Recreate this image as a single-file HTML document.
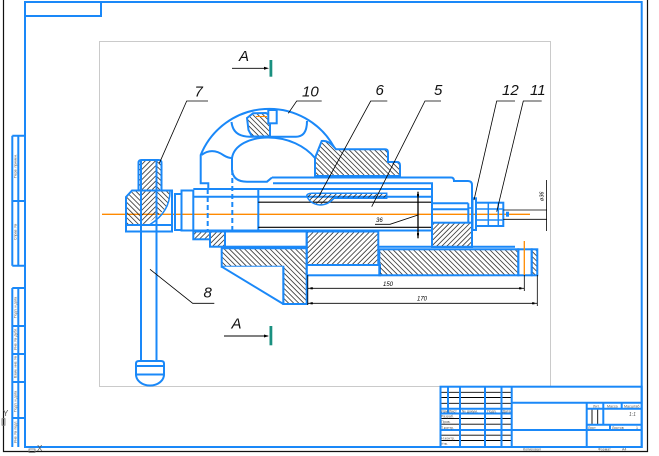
<!DOCTYPE html>
<html><head><meta charset="utf-8"><style>
html,body{margin:0;padding:0;background:#fff;}
svg{display:block;}
.b{stroke:#1a88f8;stroke-width:2;fill:none;stroke-linejoin:miter;}
.bt{stroke:#1a88f8;stroke-width:1.5;fill:none;}
.hf{fill:url(#hf);}
.hb{fill:url(#hb);}
.wf{fill:#fff;}
.k{stroke:#000;stroke-width:0.8;fill:none;}
.t{font-family:"Liberation Sans","DejaVu Sans",sans-serif;font-style:italic;}
.g{font-family:"Liberation Sans","DejaVu Sans",sans-serif;fill:#555;}
</style></head><body>
<svg width="659" height="456" viewBox="0 0 659 456" xmlns="http://www.w3.org/2000/svg">
<defs>
<pattern id="hf" width="3.6" height="3.6" patternUnits="userSpaceOnUse" patternTransform="rotate(45)"><line x1="0.5" y1="0" x2="0.5" y2="3.6" stroke="#111" stroke-width="0.7"/></pattern>
<pattern id="hb" width="3.6" height="3.6" patternUnits="userSpaceOnUse" patternTransform="rotate(-45)"><line x1="0.5" y1="0" x2="0.5" y2="3.6" stroke="#111" stroke-width="0.7"/></pattern>
</defs>
<rect width="659" height="456" fill="#fff"/>

<!-- outer black frame -->
<path d="M3.5,0 L3.5,451.5 L647.5,451.5 L647.5,0" stroke="#111" stroke-width="1.2" fill="none"/>
<!-- blue sheet frame -->
<rect x="25" y="2" width="616.7" height="445" class="b"/>
<rect x="25" y="2" width="76" height="14" class="b"/>
<!-- left strips -->
<path d="M12.3,135.7 L12.3,265.7 M18.3,135.7 L18.3,265.7 M12.3,135.7 L25,135.7 M12.3,201 L25,201 M12.3,265.7 L25,265.7" class="b"/>
<path d="M12.3,288 L12.3,447 M18.3,288 L18.3,447 M12.3,288 L25,288 M12.3,326 L25,326 M12.3,354 L25,354 M12.3,382 L25,382 M12.3,418 L25,418" class="b"/>
<g class="g" font-size="3.6">
<text transform="translate(16.6,178) rotate(-90)">Перв. примен.</text>
<text transform="translate(16.6,240) rotate(-90)">Справ. №</text>
<text transform="translate(16.6,318) rotate(-90)">Подп. и дата</text>
<text transform="translate(16.6,350) rotate(-90)">Инв. № дубл.</text>
<text transform="translate(16.6,378) rotate(-90)">Взам. инв. №</text>
<text transform="translate(16.6,412) rotate(-90)">Подп. и дата</text>
<text transform="translate(16.6,443) rotate(-90)">Инв. № подл.</text>
</g>
<!-- axis marker -->
<text x="3" y="416" class="g" font-size="8" fill="#777">Y</text>
<rect x="2" y="418.7" width="3" height="6.5" fill="none" stroke="#777" stroke-width="0.8"/>
<text x="37" y="451" class="g" font-size="8" fill="#777">X</text>
<rect x="29" y="449" width="6" height="3.5" fill="none" stroke="#777" stroke-width="0.8"/>

<!-- gray drawing area -->
<rect x="99.5" y="41.5" width="451" height="345" fill="none" stroke="#cacaca" stroke-width="1"/>

<!-- center line -->
<line x1="102" y1="214.3" x2="530" y2="214.3" stroke="#ff8a00" stroke-width="1.3"/>

<!-- ===== base ===== -->
<path d="M221.7,248.3 L306.7,248.3 L306.7,304 L283.3,304 L283.3,266.7 L221.7,266.7 Z" class="b hb"/>
<path d="M221.7,266.7 L283.3,266.7 L283.3,304 Z" class="wf"/>
<line x1="221.7" y1="266.7" x2="283.3" y2="304" class="b"/>
<line x1="283.3" y1="266.7" x2="283.3" y2="304" class="b"/>
<rect x="306.7" y="265" width="73.3" height="10.3" class="b"/>
<rect x="379.3" y="249.3" width="139" height="26" class="b hb"/>
<rect x="518.3" y="249.3" width="13.4" height="26" class="b"/>
<rect x="531.7" y="249.3" width="5.6" height="26" class="b hb"/>
<line x1="378.3" y1="246.7" x2="515" y2="246.7" class="b"/>

<!-- rails under jaw -->
<rect x="193.3" y="231.5" width="16.7" height="7.8" class="b hf"/>
<rect x="210" y="231.5" width="15" height="15.2" class="b hf"/>
<rect x="225" y="231.5" width="81.7" height="15.2" class="b"/>
<rect x="306.7" y="231.5" width="71.6" height="33.5" class="b hf"/>

<!-- ===== handle 8 ===== -->
<line x1="141" y1="160" x2="141" y2="361" class="b"/>
<line x1="156.5" y1="160" x2="156.5" y2="361" class="b"/>
<path d="M136,374.5 L136,363.5 Q136,361 139,361 L161,361 Q164,361 164,363.5 L164,374.5 Z" class="b wf"/>
<line x1="136" y1="366" x2="164" y2="366" class="b"/>
<path d="M136,374.5 A14,11 0 0 0 164,374.5" class="b"/>

<!-- ===== screw head 7 ===== -->
<path d="M127,197 L132.5,191.5 L141,191.5 L141,224.5 L127,224.5 Z" class="hb"/>
<path d="M141,161 L156.5,161 L156.5,216 Q150,223.5 141,224.5 Z" class="hf"/>
<path d="M156.5,161 L160.5,162.5 L160.5,191.5 L170,191.5 Q170,208 156.5,216 Z" class="hb"/>
<path d="M139.5,161.5 L141,161 L141,191 L139.5,191 Z" class="hb"/>
<path d="M138.5,191 L138.5,163 Q138.5,160 141.5,160 L158.5,160 Q161.5,160 161.5,163 L161.5,191" class="b"/>
<path d="M126,197 L132,190.5 L172,190.5 L172,231.5 L126,231.5 Z" class="b"/>
<line x1="126" y1="225" x2="172" y2="225" class="b"/>
<path d="M170,191 Q170,212 150,224.5" class="bt"/>
<line x1="141" y1="160" x2="141" y2="231" class="b"/>
<line x1="156.5" y1="160" x2="156.5" y2="231" class="b"/>

<!-- flange pieces -->
<rect x="175" y="194" width="6.5" height="36" class="b"/>
<rect x="181.5" y="190.5" width="11.8" height="40" class="b"/>

<!-- screw body lines -->
<path d="M193.3,189 L432,189" class="b"/>
<path d="M193.3,196.7 L432,196.7" class="b"/>
<path d="M193.3,230.5 L432,230.5" class="b"/>
<line x1="258.3" y1="189" x2="258.3" y2="230.5" class="b"/>
<line x1="258.3" y1="202.2" x2="432" y2="202.2" stroke="#000" stroke-width="1.2"/>
<line x1="258.3" y1="227.3" x2="432" y2="227.3" stroke="#000" stroke-width="1.2"/>

<!-- hidden lines -->
<line x1="207.7" y1="189" x2="207.7" y2="230" class="b" stroke-dasharray="5,3"/>
<line x1="232.3" y1="170" x2="232.3" y2="230" class="b" stroke-dasharray="5,3"/>

<!-- ===== frame 10 ===== -->
<path d="M208.3,189 L208.3,183.3 L200.7,183.3 L200.7,155 A74,74 0 0 1 334,147" class="b"/>
<path d="M201.5,155 Q212,147 224,155.5 Q228,158 232,158" class="b"/>
<path d="M232,170 L232,158 C234,145 250,137.5 268,137.5 C288,137.5 305,146 315,158" class="b"/>
<path d="M232,170 Q233,181.7 247,181.7 L267,181.7 L272,177.5" class="b"/>
<path d="M231.5,122 Q233,136.7 250,136.7 L296,136.7 Q307,136.7 307,121" class="b"/>
<path d="M247,118 L253,113.3 L266,113 L270,116 L270,136.5 L252,136.5 L248.5,130 Z" class="b hb"/>
<rect x="268.3" y="110" width="8.4" height="13.3" class="b wf"/>
<line x1="256" y1="116.5" x2="267" y2="116.5" stroke="#ff8a00" stroke-width="1"/>

<!-- jaw hatched -->
<path d="M315,176 L315,158 L321.7,141 Q328,140 334,147 L336,149.3 L385,149.3 Q388,149.3 388,152.5 L388,162 L397,162 Q400,162 400,165.5 L400,176 Z" class="b hb"/>

<!-- body of moving jaw -->
<path d="M272,177.5 L451,177.5 Q454,177.5 454,181 L468,181 Q472,181 472,185 L472,247" class="b"/>
<path d="M273,183.3 L432,183.3 L432,247" class="b"/>

<!-- part 6 strip -->
<path d="M306.7,196 Q307,193.3 312,193.3 L386.7,193.3 L386.7,198.3 L334,198.3 Q328,205 320,205 Q310,204 306.7,196 Z" class="bt hf"/>

<!-- right end -->
<rect x="432" y="222.7" width="40" height="24.3" class="b hf"/>
<path d="M432,203.3 L468.3,203.3 M432,209.3 L468.3,209.3 M468.3,203.3 L468.3,222.7" class="b"/>
<rect x="468.3" y="208" width="3.7" height="14.7" class="bt"/>
<rect x="472.5" y="198.3" width="3.5" height="31.7" class="b"/>
<rect x="476" y="202.7" width="27.3" height="23.3" class="b"/>
<path d="M488.3,202.7 L488.3,226 M498.3,202.7 L498.3,226 M476,209 L503.3,209 M476,220 L503.3,220" class="bt"/>
<rect x="506" y="211.7" width="3" height="5" fill="#1a88f8"/>

<!-- orange vertical -->
<line x1="524.3" y1="241" x2="524.3" y2="275" stroke="#ff8a00" stroke-width="1.3"/>

<!-- ===== dimensions ===== -->
<g class="k">
<line x1="307.8" y1="275" x2="307.8" y2="305"/>
<line x1="524.3" y1="275" x2="524.3" y2="291"/>
<line x1="537.3" y1="275" x2="537.3" y2="306"/>
<line x1="307.8" y1="288.3" x2="524.3" y2="288.3"/>
<line x1="307.8" y1="303.3" x2="537.3" y2="303.3"/>
<line x1="418" y1="191.7" x2="418" y2="238.3" stroke-width="1.3"/>
<path d="M375,224.3 L390,224.3 L418,215"/>
<line x1="503.3" y1="210" x2="547" y2="210"/>
<line x1="503.3" y1="219.3" x2="547" y2="219.3"/>
<line x1="546.5" y1="180" x2="546.5" y2="231"/>
</g>
<g fill="#000">
<rect x="310.5" y="287.3" width="2.4" height="2"/>
<rect x="519" y="287.3" width="2.4" height="2"/>
<rect x="310.5" y="302.3" width="2.4" height="2"/>
<rect x="532" y="302.3" width="2.4" height="2"/>
<rect x="417" y="194" width="2" height="2.4"/>
<rect x="417" y="233" width="2" height="2.4"/>
</g>
<text x="383" y="286" class="t" font-size="6">150</text>
<text x="417" y="300.5" class="t" font-size="6">170</text>
<text x="376" y="222" class="t" font-size="6">36</text>
<text transform="translate(543.5,201) rotate(-90)" class="t" font-size="5.5">ø36</text>

<!-- ===== leaders ===== -->
<g class="k">
<path d="M208,101 L186.7,101 L159.3,163.3"/>
<path d="M321.7,101 L296.7,101 L288.3,113.3"/>
<path d="M387.3,101 L370.7,101 L319,196"/>
<path d="M441,101 L425,101 L371.7,206.7"/>
<path d="M515,101 L496.7,101 L474,200"/>
<path d="M541.7,101 L523.3,101 L496.7,211.7"/>
<path d="M214.3,303.3 L192.7,303.3 L150,269.3"/>
</g>
<g class="t" font-size="15" fill="#111">
<text x="194.5" y="96.5">7</text>
<text x="302" y="96.5">10</text>
<text x="375.5" y="95">6</text>
<text x="434" y="95">5</text>
<text x="502" y="95">12</text>
<text x="530" y="95">11</text>
<text x="203.5" y="297.5">8</text>
<text x="239" y="61">A</text>
<text x="231.5" y="328.7">A</text>
</g>
<!-- section arrows -->
<line x1="232" y1="68.3" x2="266" y2="68.3" stroke="#000" stroke-width="0.9"/>
<path d="M264,66.8 L269,68.3 L264,69.8 Z" fill="#000"/>
<rect x="269.5" y="60" width="2.8" height="16.7" fill="#1a9080"/>
<line x1="224" y1="336" x2="268" y2="336" stroke="#000" stroke-width="0.9"/>
<path d="M264,334.5 L269,336 L264,337.5 Z" fill="#000"/>
<rect x="269.5" y="326" width="2.8" height="19.3" fill="#1a9080"/>

<!-- ===== title block ===== -->
<g stroke="#000" stroke-width="0.9">
<line x1="440" y1="392.3" x2="512" y2="392.3"/>
<line x1="440" y1="397.5" x2="512" y2="397.5"/>
<line x1="440" y1="403.3" x2="512" y2="403.3"/>
<line x1="440" y1="418.5" x2="512" y2="418.5"/>
<line x1="440" y1="424.2" x2="512" y2="424.2"/>
<line x1="440" y1="435.2" x2="512" y2="435.2"/>
<line x1="440" y1="440.5" x2="512" y2="440.5"/>
<line x1="592" y1="408.7" x2="592" y2="424.7"/>
<line x1="597.7" y1="408.7" x2="597.7" y2="424.7"/>
</g>
<g class="b">
<rect x="440.5" y="386.7" width="201.2" height="60.3"/>
<line x1="448" y1="386.7" x2="448" y2="413.5"/>
<line x1="460" y1="386.7" x2="460" y2="447"/>
<line x1="485" y1="386.7" x2="485" y2="447"/>
<line x1="501.5" y1="386.7" x2="501.5" y2="447"/>
<line x1="511.7" y1="386.7" x2="511.7" y2="447"/>
<line x1="440" y1="408.8" x2="512" y2="408.8"/>
<line x1="440" y1="413.5" x2="512" y2="413.5"/>
<line x1="440" y1="430" x2="641.7" y2="430"/>
<line x1="511.7" y1="402.7" x2="641.7" y2="402.7"/>
<line x1="586.7" y1="402.7" x2="586.7" y2="447"/>
<line x1="586.7" y1="408.7" x2="641.7" y2="408.7"/>
<line x1="603.3" y1="402.7" x2="603.3" y2="424.7"/>
<line x1="621.7" y1="402.7" x2="621.7" y2="408.7"/>
<line x1="586.7" y1="424.7" x2="641.7" y2="424.7"/>
<line x1="610" y1="424.7" x2="610" y2="430"/>
</g>
<g class="g" font-size="3.6">
<text x="441" y="412.3">Изм.</text><text x="449" y="412.3">Лист</text>
<text x="462" y="412.3">№ докум.</text><text x="487" y="412.3">Подп.</text><text x="502.5" y="412.3">Дата</text>
<text x="441" y="417.5">Разраб.</text><text x="441" y="423">Пров.</text><text x="441" y="428.8">Т.контр.</text>
<text x="441" y="439.5">Н.контр.</text><text x="441" y="445">Утв.</text>
<text x="593" y="407.3">Лит.</text><text x="607" y="407.3">Масса</text><text x="624" y="407.3">Масштаб</text>
<text x="588" y="429">Лист</text><text x="612" y="429">Листов</text><text x="636" y="429">1</text>
<text x="523" y="450.5">Копировал</text><text x="598" y="450.5">Формат</text><text x="622" y="450.5">A4</text>
</g>
<text x="629" y="416" class="t" font-size="5" fill="#555">1:1</text>
</svg>
</body></html>
